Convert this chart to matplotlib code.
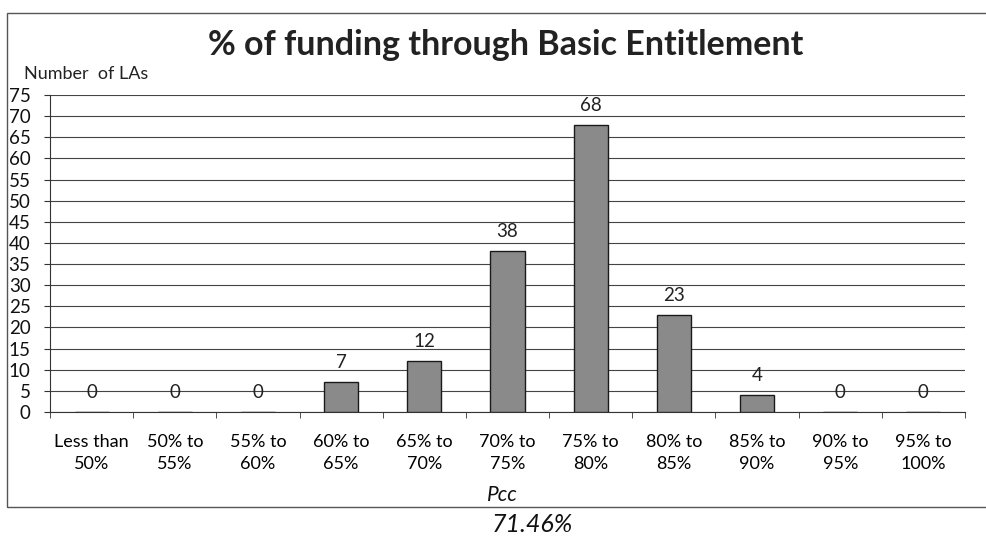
import matplotlib.pyplot as plt
from matplotlib.patches import Rectangle

categories = ["Less than\n50%", "50% to\n55%", "55% to\n60%", "60% to\n65%",
              "65% to\n70%", "70% to\n75%", "75% to\n80%", "80% to\n85%",
              "85% to\n90%", "90% to\n95%", "95% to\n100%"]
counts = [0, 0, 0, 7, 12, 38, 68, 23, 4, 0, 0]
y_ticks = list(range(0, 80, 5))

plt.rcParams['font.family'] = ['Lato', 'DejaVu Sans']

fig = plt.figure(figsize=(9.87, 5.37), dpi=100)
ax = fig.add_axes([50 / 987, 125 / 537, 915 / 987, 317 / 537])

x = list(range(len(categories)))
bars = ax.bar(x, counts, width=0.41, color='#8a8a8a', edgecolor='#1a1a1a',
              linewidth=1.0, zorder=3)

# value labels above each bar (zero ones too)
for xi, c in zip(x, counts):
    ax.annotate(str(c), (xi, c), xytext=(0, 14), textcoords='offset points',
                ha='center', va='center', fontsize=13.5, color='#222222', zorder=4)

ax.set_xlim(-0.5, len(categories) - 0.5)
ax.set_ylim(0, 75)
ax.set_yticks(y_ticks)
ax.set_yticklabels([str(t) for t in y_ticks], fontsize=13.5)
ax.yaxis.grid(True, color='#444444', linewidth=0.8, zorder=0)
ax.set_axisbelow(True)

ax.set_xticks(x)
ax.set_xticklabels(categories, fontsize=13, linespacing=1.45)
ax.tick_params(axis='x', length=0, pad=16)
ax.set_xticks([i - 0.5 for i in range(len(categories) + 1)], minor=True)
ax.tick_params(axis='x', which='minor', length=4, color='#333333', direction='out')
ax.tick_params(axis='y', length=4, color='#333333', pad=10, labelcolor='#111111')

for side in ['top', 'right']:
    ax.spines[side].set_visible(False)
ax.spines['left'].set_color('#333333')
ax.spines['bottom'].set_color('#333333')

fig.text(506 / 987, 1 - 45 / 537, "% of funding through Basic Entitlement",
         ha='center', va='center', fontsize=24.5, fontweight='bold', color='#222222')
fig.text(24 / 987, 1 - 74 / 537, "Number  of LAs", ha='left', va='center',
         fontsize=13, color='#222222')

# chart border (runs off the right edge in the scan)
fig.patches.append(Rectangle((7 / 987, 1 - 507 / 537), 1.0, 494 / 537,
                             transform=fig.transFigure, fill=False,
                             edgecolor='#555555', linewidth=1.0))

# handwritten notes under the chart
fig.text(502 / 987, 1 - 495 / 537, "Pcc", ha='center', va='center',
         fontsize=15, style='italic', color='#111111')
fig.text(532 / 987, 1 - 525 / 537, "71.46%", ha='center', va='center',
         fontsize=18, style='italic', color='#111111')

fig.savefig("out.png", dpi=100)
